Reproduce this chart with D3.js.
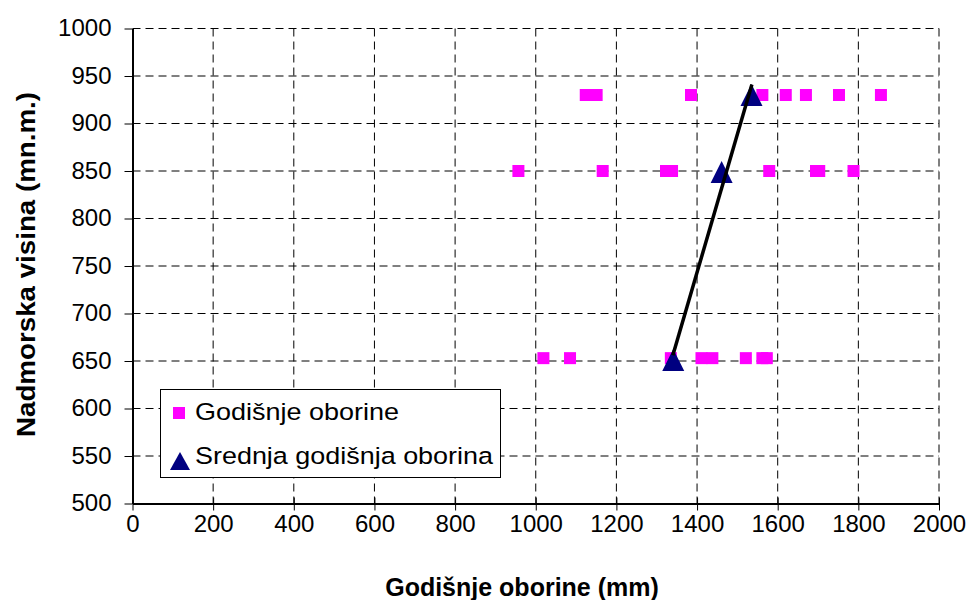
<!DOCTYPE html>
<html>
<head>
<meta charset="utf-8">
<script src="https://cdn.jsdelivr.net/npm/d3@7"></script>
<style>
  html, body { margin: 0; padding: 0; background: #fff; }
  svg { display: block; font-family: "Liberation Sans", Arial, sans-serif; }
</style>
</head>
<body>
<svg id="chart" width="970" height="600"></svg>
<script>
// Annual precipitation (mm) per station altitude (m a.s.l.)
const yearlyX = [1124, 1151, 1385, 1562, 1620, 1670, 1752, 1856,
                 957, 1166, 1323, 1338, 1579, 1695, 1703, 1788,
                 1019, 1085, 1335, 1411, 1438, 1521, 1562, 1573];
const yearlyY = [930, 930, 930, 930, 930, 930, 930, 930,
                 850, 850, 850, 850, 850, 850, 850, 850,
                 653, 653, 653, 653, 653, 653, 653, 653];

// Mean annual precipitation per altitude
const meanX = [1341, 1461, 1535];
const meanY = [651, 849, 930];

// Straight line through the means
const lineX = [1340, 1536];
const lineY = [656, 941];

const xTicks = [0, 200, 400, 600, 800, 1000, 1200, 1400, 1600, 1800, 2000];
const yTicks = [500, 550, 600, 650, 700, 750, 800, 850, 900, 950, 1000];

const legendLabels = ["Godišnje oborine", "Srednja godišnja oborina"];
const xTitle = "Godišnje oborine (mm)";
const yTitle = "Nadmorska visina (mn.m.)";

const svg = d3.select("#chart");
const plotL = 132.5, plotR = 939, plotT = 28.5, plotB = 503.5;

const x = d3.scaleLinear().domain([0, 2000]).range([plotL, plotR]);
const y = d3.scaleLinear().domain([500, 1000]).range([plotB, plotT]);

// Dashed grid
const grid = svg.append("g").attr("stroke", "#000").attr("stroke-width", 1)
  .attr("stroke-dasharray", "8,5").attr("fill", "none");
xTicks.filter(d => d > 0).forEach(d => {
  grid.append("line").attr("x1", x(d)).attr("x2", x(d)).attr("y1", plotT).attr("y2", plotB);
});
yTicks.filter(d => d > 500).forEach(d => {
  grid.append("line").attr("x1", plotL).attr("x2", plotR).attr("y1", y(d)).attr("y2", y(d));
});

// Axes
const fmt = d3.format("d");
const xAxis = svg.append("g").attr("transform", `translate(0,${plotB})`)
  .call(d3.axisBottom(x).tickValues(xTicks).tickFormat(fmt)
    .tickSize(7).tickPadding(4).tickSizeOuter(0));
const yAxis = svg.append("g").attr("transform", `translate(${plotL},0)`)
  .call(d3.axisLeft(y).tickValues(yTicks).tickFormat(fmt)
    .tickSize(8).tickPadding(13).tickSizeOuter(0));
[xAxis, yAxis].forEach(a => {
  a.attr("font-size", 24).attr("font-family", "Liberation Sans, Arial, sans-serif");
  a.select(".domain").attr("stroke", "#000").attr("stroke-width", 2);
  a.selectAll(".tick line").attr("stroke", "#000").attr("stroke-width", 1);
  a.selectAll(".tick text").attr("fill", "#000");
});
// x ticks also cross slightly above the axis line
xAxis.selectAll(".tick line").attr("y1", -6);
yAxis.selectAll(".tick text").attr("dy", "0.3em");

// Axis titles
svg.append("text").attr("x", 522).attr("y", 596)
  .attr("text-anchor", "middle").attr("font-size", 25).attr("font-weight", "bold")
  .text(xTitle);
svg.append("text").attr("transform", `translate(35,264.5) rotate(-90)`)
  .attr("text-anchor", "middle").attr("font-size", 26).attr("font-weight", "bold")
  .attr("textLength", 345).attr("lengthAdjust", "spacingAndGlyphs")
  .text(yTitle);

const sq = 12;
const triPath = (cx, cy, w, h) =>
  `M${cx},${cy - h / 2}L${cx + w / 2},${cy + h / 2}L${cx - w / 2},${cy + h / 2}Z`;

// Yearly values
svg.append("g").selectAll("rect").data(yearlyX.map((v, i) => [v, yearlyY[i]]))
  .join("rect")
  .attr("x", d => x(d[0]) - sq / 2).attr("y", d => y(d[1]) - sq / 2)
  .attr("width", sq).attr("height", sq).attr("fill", "#ff00ff");

// Mean values
svg.append("g").selectAll("path").data(meanX.map((v, i) => [v, meanY[i]]))
  .join("path")
  .attr("d", d => triPath(x(d[0]), y(d[1]), 22, 22))
  .attr("fill", "#000080");

// Line through means
svg.append("path")
  .datum(lineX.map((v, i) => [v, lineY[i]]))
  .attr("d", d3.line().x(d => x(d[0])).y(d => y(d[1])))
  .attr("stroke", "#000").attr("stroke-width", 3.5).attr("fill", "none");

// Legend
const lg = svg.append("g");
lg.append("rect").attr("x", 160.5).attr("y", 389.5).attr("width", 340).attr("height", 88)
  .attr("fill", "#fff").attr("stroke", "#000").attr("stroke-width", 1);
lg.append("rect").attr("x", 173).attr("y", 407).attr("width", sq).attr("height", sq).attr("fill", "#ff00ff");
lg.append("path").attr("d", triPath(180, 461, 20, 18)).attr("fill", "#000080");
lg.append("text").attr("x", 195).attr("y", 419.5).attr("font-size", 24.5)
  .attr("textLength", 204).attr("lengthAdjust", "spacingAndGlyphs").text(legendLabels[0]);
lg.append("text").attr("x", 195).attr("y", 464).attr("font-size", 24.5)
  .attr("textLength", 298).attr("lengthAdjust", "spacingAndGlyphs").text(legendLabels[1]);
</script>
</body>
</html>
